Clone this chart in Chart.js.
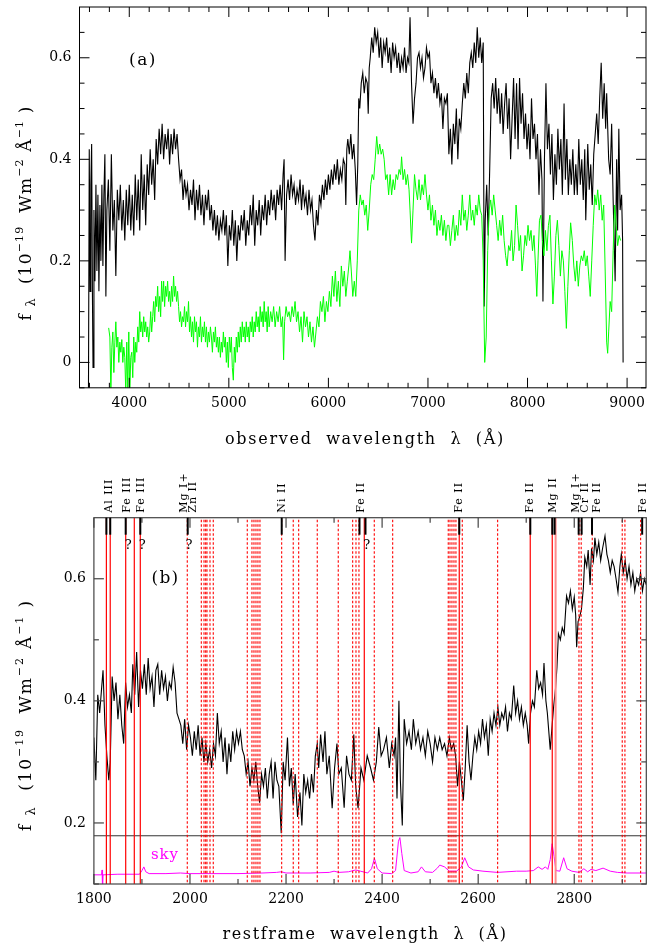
<!DOCTYPE html>
<html>
<head>
<meta charset="utf-8">
<script src="https://cdn.jsdelivr.net/npm/chart.js@4.4.1/dist/chart.umd.min.js"></script>
<style>
  html, body { margin: 0; padding: 0; background: #fff; }
  #wrap { position: relative; width: 648px; height: 943px; overflow: hidden; }
  canvas { position: absolute; left: 0; }
  #cA { top: 0; }
  #cB { top: 460px; }
</style>
</head>
<body>
<div id="wrap">
  <canvas id="cA" width="648" height="460"></canvas>
  <canvas id="cB" width="648" height="483"></canvas>
</div>
<script>
/* ── Panel (a): observed spectrum, [wavelength Å, flux] ── */
const blackA = [
  [3590,-0.06],[3598,0.42],[3606,0.14],[3614,0.35],[3622,0.43],[3630,0.13],[3636,-0.01],[3645,0.30],
  [3655,0.16],[3665,0.35],[3675,0.18],[3685,0.33],[3695,0.14],[3705,0.31],[3715,0.20],[3725,0.35],
  [3735,0.19],[3745,0.33],[3755,0.41],[3765,0.13],[3775,0.30],[3790,0.36],[3805,0.22],[3820,0.41],
  [3835,0.26],[3850,0.32],[3865,0.17],[3880,0.34],[3895,0.28],[3910,0.35],[3925,0.26],[3940,0.32],
  [3955,0.24],[3970,0.34],[3985,0.27],[4000,0.35],[4015,0.26],[4030,0.33],[4045,0.25],[4060,0.37],
  [4075,0.28],[4090,0.36],[4105,0.26],[4120,0.41],[4135,0.30],[4150,0.37],[4165,0.27],[4180,0.39],
  [4195,0.33],[4210,0.42],[4225,0.35],[4240,0.40],[4255,0.32],[4270,0.44],[4285,0.39],[4300,0.46],
  [4315,0.41],[4330,0.47],[4345,0.40],[4360,0.45],[4375,0.42],[4390,0.46],[4405,0.39],[4420,0.45],
  [4435,0.41],[4450,0.46],[4465,0.42],[4480,0.45],[4495,0.40],[4510,0.36],[4525,0.38],[4540,0.32],
  [4555,0.36],[4570,0.33],[4585,0.35],[4600,0.30],[4615,0.34],[4630,0.31],[4645,0.36],[4660,0.28],
  [4675,0.34],[4690,0.30],[4705,0.35],[4720,0.29],[4735,0.33],[4750,0.27],[4765,0.33],[4780,0.30],
  [4795,0.34],[4810,0.28],[4825,0.31],[4840,0.26],[4855,0.30],[4870,0.25],[4885,0.29],[4900,0.24],
  [4915,0.28],[4930,0.26],[4945,0.30],[4960,0.25],[4975,0.29],[4990,0.19],[5005,0.27],[5020,0.24],
  [5035,0.30],[5050,0.23],[5065,0.28],[5080,0.20],[5095,0.27],[5110,0.24],[5125,0.29],[5140,0.26],
  [5155,0.30],[5170,0.23],[5185,0.28],[5200,0.25],[5215,0.31],[5230,0.27],[5245,0.33],[5260,0.23],
  [5275,0.30],[5290,0.27],[5305,0.32],[5320,0.25],[5335,0.31],[5350,0.28],[5365,0.33],[5380,0.27],
  [5395,0.32],[5410,0.29],[5425,0.34],[5440,0.30],[5455,0.33],[5470,0.28],[5485,0.34],[5500,0.31],
  [5515,0.35],[5530,0.30],[5545,0.37],[5555,0.40],[5565,0.20],[5580,0.33],[5595,0.36],[5610,0.32],
  [5625,0.37],[5640,0.33],[5655,0.35],[5670,0.31],[5685,0.34],[5700,0.32],[5715,0.36],[5730,0.30],
  [5745,0.35],[5760,0.31],[5775,0.33],[5790,0.29],[5805,0.34],[5820,0.30],[5835,0.32],[5850,0.27],
  [5865,0.24],[5880,0.30],[5895,0.27],[5910,0.33],[5925,0.31],[5940,0.35],[5955,0.32],[5970,0.36],
  [5985,0.33],[6000,0.37],[6015,0.34],[6030,0.38],[6045,0.35],[6060,0.39],[6075,0.36],[6090,0.40],
  [6105,0.35],[6120,0.38],[6135,0.36],[6150,0.40],[6165,0.39],[6175,0.31],[6185,0.42],[6195,0.44],
  [6210,0.41],[6225,0.45],[6240,0.40],[6255,0.43],[6270,0.38],[6283,0.31],[6295,0.39],[6305,0.52],
  [6315,0.50],[6330,0.55],[6345,0.57],[6360,0.53],[6375,0.56],[6390,0.55],[6400,0.49],[6410,0.58],
  [6420,0.60],[6435,0.64],[6450,0.61],[6465,0.66],[6480,0.63],[6495,0.65],[6510,0.60],[6525,0.64],
  [6540,0.58],[6555,0.63],[6570,0.61],[6585,0.64],[6600,0.59],[6615,0.62],[6630,0.57],[6645,0.63],
  [6660,0.60],[6675,0.62],[6690,0.58],[6705,0.61],[6720,0.57],[6735,0.60],[6750,0.58],[6765,0.62],
  [6780,0.57],[6795,0.60],[6808,0.59],[6820,0.68],[6835,0.55],[6850,0.47],[6865,0.52],[6880,0.55],
  [6895,0.60],[6910,0.61],[6925,0.58],[6940,0.60],[6955,0.56],[6970,0.58],[6985,0.62],[7000,0.60],
  [7015,0.61],[7030,0.55],[7045,0.57],[7060,0.53],[7075,0.56],[7090,0.52],[7105,0.55],[7120,0.51],
  [7135,0.53],[7150,0.46],[7165,0.52],[7180,0.51],[7195,0.53],[7210,0.41],[7225,0.46],[7240,0.39],
  [7255,0.47],[7270,0.43],[7285,0.50],[7300,0.40],[7315,0.48],[7330,0.46],[7345,0.51],[7360,0.55],
  [7375,0.52],[7390,0.57],[7405,0.53],[7420,0.59],[7435,0.61],[7450,0.58],[7465,0.63],[7480,0.59],
  [7495,0.66],[7510,0.60],[7525,0.64],[7540,0.59],[7555,0.63],[7565,0.11],[7575,0.28],[7590,0.35],
  [7605,0.25],[7620,0.38],[7635,0.52],[7650,0.55],[7665,0.50],[7680,0.56],[7695,0.49],[7710,0.54],
  [7725,0.47],[7740,0.53],[7755,0.45],[7770,0.51],[7785,0.55],[7800,0.46],[7815,0.52],[7830,0.40],
  [7845,0.48],[7860,0.56],[7875,0.44],[7890,0.55],[7905,0.42],[7920,0.56],[7935,0.47],[7950,0.53],
  [7965,0.44],[7980,0.49],[7995,0.42],[8010,0.47],[8025,0.40],[8040,0.52],[8055,0.44],[8070,0.47],
  [8085,0.40],[8100,0.45],[8115,0.33],[8130,0.42],[8145,0.36],[8155,0.12],[8170,0.40],[8185,0.55],
  [8200,0.42],[8215,0.47],[8230,0.37],[8245,0.45],[8260,0.32],[8275,0.41],[8290,0.35],[8305,0.46],
  [8320,0.38],[8335,0.44],[8350,0.33],[8367,0.51],[8380,0.36],[8395,0.44],[8410,0.33],[8425,0.40],
  [8440,0.35],[8455,0.42],[8470,0.33],[8485,0.39],[8500,0.33],[8515,0.44],[8530,0.35],[8545,0.40],
  [8560,0.32],[8575,0.42],[8585,0.28],[8605,0.43],[8620,0.34],[8635,0.39],[8650,0.31],[8665,0.41],
  [8680,0.45],[8695,0.49],[8710,0.43],[8725,0.52],[8740,0.59],[8755,0.48],[8770,0.55],[8785,0.46],
  [8795,0.53],[8815,0.40],[8830,0.37],[8845,0.47],[8860,0.32],[8880,0.16],[8895,0.40],[8905,0.26],
  [8917,0.46],[8930,0.30],[8945,0.33],[8955,0.24],[8960,0.00]
];

const greenA = [
  [3793,0.068],[3805,0.05],[3815,-0.06],[3825,0.03],[3835,0.06],[3845,-0.02],[3855,0.04],[3865,0.08],
  [3875,0.03],[3885,0.05],[3895,0.00],[3905,0.04],[3915,0.02],[3925,0.045],[3935,0.00],[3945,0.03],
  [3955,0.01],[3965,-0.06],[3975,0.04],[3985,-0.06],[3995,0.06],[4005,-0.06],[4015,0.01],[4025,0.02],
  [4035,-0.03],[4045,0.05],[4055,0.00],[4065,0.04],[4075,0.02],[4085,0.07],[4095,0.04],[4105,0.10],
  [4115,0.06],[4125,0.08],[4135,0.05],[4145,0.09],[4155,0.06],[4165,0.08],[4175,0.05],[4185,0.07],
  [4195,0.04],[4205,0.06],[4215,0.10],[4225,0.06],[4235,0.09],[4245,0.12],[4255,0.08],[4265,0.13],
  [4275,0.11],[4285,0.15],[4295,0.10],[4305,0.13],[4315,0.09],[4325,0.16],[4335,0.12],[4345,0.16],
  [4355,0.11],[4365,0.15],[4375,0.13],[4385,0.16],[4395,0.12],[4405,0.14],[4415,0.11],[4425,0.15],
  [4435,0.12],[4445,0.17],[4455,0.13],[4465,0.15],[4475,0.12],[4485,0.14],[4495,0.11],[4505,0.08],
  [4515,0.10],[4525,0.07],[4535,0.09],[4545,0.08],[4555,0.11],[4565,0.07],[4575,0.10],[4585,0.08],
  [4595,0.12],[4605,0.06],[4615,0.09],[4625,0.05],[4635,0.08],[4645,0.04],[4655,0.09],[4665,0.06],
  [4675,0.08],[4685,0.03],[4695,0.07],[4705,0.05],[4715,0.09],[4725,0.04],[4735,0.07],[4745,0.05],
  [4755,0.08],[4765,0.04],[4775,0.07],[4785,0.03],[4795,0.06],[4805,0.04],[4815,0.07],[4825,0.05],
  [4835,0.02],[4845,0.06],[4855,0.04],[4865,0.07],[4875,0.03],[4885,0.05],[4895,0.02],[4905,0.05],
  [4915,0.01],[4925,0.04],[4935,0.02],[4945,0.06],[4955,0.03],[4965,0.05],[4975,0.00],[4985,0.04],
  [4995,-0.01],[5005,0.05],[5015,0.02],[5025,0.05],[5035,-0.01],[5045,-0.035],[5055,0.03],[5065,0.00],
  [5075,0.05],[5085,0.02],[5095,0.06],[5105,0.03],[5115,0.07],[5125,0.04],[5135,0.08],[5145,0.05],
  [5155,0.07],[5165,0.04],[5175,0.08],[5185,0.05],[5195,0.07],[5205,0.04],[5215,0.08],[5225,0.06],
  [5235,0.09],[5245,0.05],[5255,0.08],[5265,0.06],[5275,0.10],[5285,0.07],[5295,0.09],[5305,0.06],
  [5315,0.11],[5325,0.08],[5335,0.10],[5345,0.07],[5355,0.12],[5365,0.08],[5375,0.10],[5385,0.06],
  [5395,0.11],[5405,0.07],[5420,0.10],[5435,0.08],[5450,0.11],[5465,0.07],[5480,0.10],[5495,0.08],
  [5510,0.11],[5525,0.07],[5540,0.09],[5550,0.005],[5560,0.08],[5575,0.11],[5590,0.09],[5605,0.10],
  [5620,0.08],[5635,0.11],[5650,0.09],[5665,0.12],[5680,0.08],[5695,0.10],[5710,0.06],[5725,0.09],
  [5740,0.04],[5755,0.10],[5770,0.07],[5785,0.09],[5800,0.05],[5815,0.08],[5830,0.04],[5845,0.07],
  [5860,0.03],[5875,0.06],[5890,0.09],[5905,0.07],[5920,0.12],[5935,0.10],[5950,0.13],[5965,0.08],
  [5980,0.12],[5995,0.10],[6010,0.14],[6025,0.11],[6040,0.17],[6055,0.13],[6070,0.18],[6085,0.12],
  [6100,0.16],[6115,0.11],[6130,0.19],[6145,0.15],[6160,0.18],[6175,0.13],[6190,0.16],[6205,0.19],
  [6217,0.22],[6230,0.18],[6245,0.13],[6260,0.16],[6275,0.13],[6290,0.20],[6305,0.30],[6320,0.33],
  [6335,0.31],[6350,0.32],[6365,0.29],[6380,0.31],[6395,0.26],[6410,0.30],[6425,0.35],[6440,0.37],
  [6455,0.36],[6470,0.40],[6485,0.445],[6500,0.41],[6515,0.43],[6530,0.41],[6545,0.42],[6560,0.40],
  [6575,0.36],[6590,0.37],[6605,0.33],[6620,0.37],[6635,0.33],[6650,0.36],[6665,0.34],[6680,0.37],
  [6695,0.36],[6710,0.38],[6725,0.37],[6735,0.405],[6750,0.36],[6765,0.38],[6780,0.35],[6795,0.37],
  [6810,0.34],[6820,0.30],[6835,0.235],[6850,0.30],[6865,0.37],[6880,0.34],[6895,0.32],[6910,0.36],
  [6925,0.32],[6940,0.35],[6955,0.33],[6970,0.37],[6985,0.33],[7000,0.30],[7015,0.33],[7030,0.28],
  [7045,0.31],[7060,0.27],[7075,0.30],[7090,0.25],[7105,0.28],[7120,0.26],[7135,0.29],[7150,0.25],
  [7165,0.28],[7180,0.24],[7195,0.27],[7210,0.27],[7225,0.23],[7240,0.26],[7255,0.29],[7270,0.24],
  [7285,0.27],[7300,0.25],[7315,0.30],[7330,0.27],[7345,0.33],[7360,0.28],[7375,0.30],[7390,0.26],
  [7405,0.29],[7420,0.33],[7435,0.28],[7450,0.30],[7465,0.27],[7480,0.31],[7495,0.29],[7510,0.33],
  [7525,0.30],[7540,0.29],[7555,0.20],[7570,0.00],[7585,0.05],[7600,0.22],[7615,0.30],[7630,0.32],
  [7645,0.29],[7660,0.33],[7675,0.30],[7690,0.27],[7705,0.24],[7720,0.28],[7735,0.25],[7750,0.29],
  [7765,0.24],[7780,0.21],[7795,0.19],[7810,0.23],[7825,0.22],[7840,0.26],[7855,0.20],[7870,0.23],
  [7885,0.31],[7900,0.27],[7915,0.22],[7930,0.25],[7945,0.18],[7960,0.21],[7975,0.25],[7990,0.23],
  [8005,0.27],[8020,0.24],[8035,0.26],[8050,0.22],[8065,0.25],[8080,0.19],[8093,0.13],[8105,0.20],
  [8120,0.28],[8135,0.29],[8150,0.24],[8165,0.21],[8180,0.26],[8195,0.22],[8210,0.27],[8225,0.29],
  [8240,0.20],[8255,0.115],[8270,0.17],[8285,0.25],[8300,0.28],[8315,0.23],[8330,0.17],[8345,0.22],
  [8360,0.20],[8375,0.14],[8390,0.067],[8405,0.15],[8420,0.22],[8433,0.275],[8450,0.24],[8465,0.19],
  [8480,0.16],[8495,0.20],[8510,0.15],[8525,0.19],[8540,0.21],[8555,0.20],[8570,0.22],[8585,0.19],
  [8600,0.21],[8615,0.17],[8630,0.13],[8645,0.20],[8660,0.27],[8675,0.33],[8690,0.31],[8705,0.34],
  [8720,0.30],[8735,0.33],[8750,0.28],[8765,0.31],[8780,0.18],[8795,0.04],[8805,0.018],[8815,0.06],
  [8830,0.12],[8845,0.10],[8860,0.22],[8875,0.31],[8890,0.27],[8905,0.23],[8920,0.25],[8935,0.24]
];

/* ── Panel (b): restframe spectrum and sky, [wavelength Å, flux] ── */
const blackB = [
  [1800,0.34],[1804,0.27],[1808,0.41],[1812,0.38],[1816,0.42],[1819,0.45],[1823,0.36],[1827,0.31],
  [1831,0.27],[1834,0.30],[1838,0.44],[1842,0.40],[1846,0.43],[1850,0.37],[1854,0.41],[1858,0.36],
  [1862,0.33],[1866,0.43],[1870,0.39],[1874,0.41],[1878,0.38],[1881,0.46],[1885,0.41],[1889,0.48],
  [1893,0.39],[1897,0.45],[1901,0.42],[1905,0.46],[1909,0.41],[1913,0.47],[1917,0.42],[1921,0.44],
  [1925,0.39],[1929,0.45],[1933,0.46],[1937,0.41],[1941,0.45],[1945,0.42],[1949,0.44],[1953,0.40],
  [1957,0.43],[1961,0.42],[1965,0.455],[1969,0.43],[1973,0.38],[1977,0.37],[1981,0.36],[1985,0.33],
  [1989,0.37],[1993,0.32],[1997,0.36],[2001,0.34],[2005,0.31],[2009,0.35],[2013,0.32],[2017,0.36],
  [2021,0.31],[2025,0.34],[2029,0.30],[2033,0.33],[2037,0.30],[2041,0.32],[2045,0.29],[2049,0.33],
  [2053,0.31],[2057,0.38],[2061,0.33],[2065,0.35],[2069,0.30],[2073,0.34],[2077,0.28],[2081,0.33],
  [2085,0.30],[2089,0.35],[2093,0.32],[2097,0.35],[2101,0.33],[2105,0.35],[2109,0.32],[2113,0.31],
  [2117,0.28],[2121,0.30],[2125,0.26],[2129,0.29],[2133,0.27],[2137,0.30],[2141,0.26],[2145,0.233],
  [2149,0.28],[2153,0.26],[2157,0.29],[2161,0.24],[2165,0.28],[2169,0.30],[2173,0.24],[2177,0.30],
  [2181,0.27],[2185,0.26],[2190,0.183],[2194,0.30],[2198,0.27],[2203,0.34],[2207,0.26],[2211,0.29],
  [2215,0.23],[2219,0.28],[2224,0.21],[2229,0.25],[2233,0.196],[2237,0.28],[2241,0.25],[2245,0.27],
  [2249,0.24],[2253,0.28],[2257,0.25],[2261,0.31],[2265,0.33],[2268,0.29],[2272,0.345],[2277,0.30],
  [2281,0.35],[2285,0.28],[2290,0.31],[2296,0.224],[2301,0.29],[2306,0.33],[2310,0.28],[2315,0.29],
  [2321,0.225],[2326,0.31],[2331,0.28],[2336,0.27],[2341,0.345],[2345,0.26],[2350,0.224],[2356,0.29],
  [2362,0.27],[2369,0.31],[2376,0.29],[2382,0.27],[2388,0.30],[2393,0.357],[2398,0.31],[2403,0.32],
  [2409,0.34],[2415,0.29],[2420,0.33],[2425,0.31],[2428,0.34],[2431,0.24],[2435,0.40],[2438,0.27],
  [2442,0.196],[2446,0.37],[2451,0.33],[2456,0.35],[2461,0.32],[2465,0.37],[2470,0.33],[2475,0.35],
  [2480,0.32],[2485,0.34],[2490,0.31],[2495,0.35],[2500,0.33],[2505,0.30],[2510,0.34],[2515,0.32],
  [2520,0.34],[2525,0.32],[2530,0.33],[2535,0.31],[2540,0.34],[2544,0.32],[2549,0.33],[2553,0.31],
  [2557,0.26],[2561,0.30],[2565,0.27],[2569,0.237],[2573,0.29],[2577,0.36],[2581,0.30],[2585,0.27],
  [2589,0.31],[2593,0.34],[2597,0.32],[2601,0.35],[2605,0.33],[2609,0.37],[2613,0.34],[2617,0.36],
  [2621,0.31],[2625,0.37],[2629,0.35],[2633,0.38],[2637,0.36],[2641,0.39],[2645,0.36],[2649,0.38],
  [2653,0.37],[2657,0.39],[2661,0.35],[2665,0.38],[2669,0.37],[2674,0.425],[2678,0.38],[2682,0.40],
  [2686,0.37],[2690,0.39],[2694,0.36],[2698,0.38],[2702,0.36],[2705,0.33],[2709,0.38],[2713,0.40],
  [2717,0.39],[2722,0.45],[2726,0.42],[2730,0.43],[2734,0.41],[2737,0.462],[2741,0.40],[2744,0.38],
  [2747,0.35],[2750,0.32],[2754,0.36],[2757,0.39],[2761,0.42],[2764,0.455],[2767,0.51],[2771,0.50],
  [2775,0.52],[2779,0.51],[2784,0.572],[2788,0.56],[2792,0.58],[2796,0.55],[2800,0.57],[2803,0.54],
  [2805,0.488],[2808,0.53],[2812,0.54],[2815,0.55],[2819,0.585],[2822,0.635],[2826,0.62],[2829,0.647],
  [2833,0.59],[2836,0.65],[2840,0.63],[2843,0.667],[2847,0.64],[2851,0.66],[2855,0.63],[2859,0.65],
  [2864,0.67],[2868,0.64],[2871,0.63],[2875,0.61],[2879,0.63],[2883,0.62],[2887,0.60],[2891,0.578],
  [2895,0.62],[2898,0.64],[2902,0.61],[2906,0.63],[2910,0.60],[2914,0.62],[2918,0.59],[2922,0.61],
  [2926,0.58],[2930,0.60],[2934,0.59],[2938,0.61],[2942,0.58],[2946,0.60],[2950,0.59]
];

const skyB = [
  [1800,0.115],[1816,0.115],[1817,0.123],[1818,0.09],[1819,0.115],[1850,0.116],[1895,0.116],[1900,0.122],
  [1904,0.128],[1908,0.120],[1915,0.117],[1950,0.117],[1980,0.118],[2000,0.117],[2050,0.117],[2100,0.117],
  [2150,0.118],[2180,0.119],[2190,0.120],[2200,0.118],[2250,0.118],[2290,0.119],[2300,0.121],[2310,0.119],
  [2330,0.120],[2345,0.123],[2355,0.121],[2370,0.118],[2378,0.125],[2384,0.142],[2390,0.125],[2400,0.118],
  [2420,0.117],[2428,0.122],[2434,0.170],[2437,0.176],[2441,0.150],[2446,0.122],[2460,0.118],[2475,0.120],
  [2482,0.128],[2490,0.120],[2505,0.119],[2515,0.126],[2520,0.131],[2530,0.128],[2540,0.121],[2555,0.121],
  [2565,0.128],[2572,0.143],[2580,0.128],[2590,0.123],[2610,0.121],[2640,0.119],[2680,0.121],[2700,0.121],
  [2715,0.122],[2725,0.128],[2733,0.124],[2740,0.128],[2745,0.124],[2750,0.140],[2754,0.166],[2758,0.145],
  [2762,0.122],[2770,0.121],[2778,0.143],[2785,0.125],[2795,0.121],[2810,0.119],[2820,0.125],[2828,0.120],
  [2835,0.124],[2845,0.122],[2860,0.126],[2875,0.121],[2890,0.119],[2910,0.118],[2950,0.118]
];

/* ── Line identifications in panel (b) ── */
const solidLinesB = [1826, 1834, 1866.2, 1884.1, 1896.6, 2362.9, 2560.6, 2708.4, 2754.2];
const paleLinesB = [2761.2];
const dottedLinesB = [1994.4, 2023.6, 2029.2, 2032.7, 2035.4, 2041.7, 2048.5, 2119.3, 2129, 2133.2,
  2137.4, 2141.5, 2145.7, 2190.9, 2215, 2226.3, 2265, 2308.7, 2338.7, 2345.6, 2351.8, 2383.7, 2422,
  2537.7, 2541.3, 2545.4, 2549.6, 2553.7, 2566.9, 2640.5, 2809.8, 2814.5, 2837.5, 2899.9, 2905.5, 2938.2];
const markTicksB = [1826, 1834, 1866.2, 1896.6, 1995.3, 2191, 2352.9, 2365.4, 2560.6, 2708.5,
  2754.3, 2759.1, 2809.2, 2815.4, 2836.9, 2941.4];
const lineLabelsB = [
  [1832, 'Al III'], [1868.3, 'Fe III'], [1898, 'Fe III'], [1987.6, 'Mg I+'], [2006.4, 'Zn II'],
  [2191, 'Ni II'], [2356, 'Fe II'], [2560.6, 'Fe II'], [2707.8, 'Fe II'], [2756.3, 'Mg II'],
  [2803.6, 'Mg I+'], [2823.5, 'Cr II'], [2848, 'Fe II'], [2942.4, 'Fe II']
];
const queryMarksB = [1871.6, 1900.7, 1998, 2367.9];
const skyCutB = 0.179;

/* ── Axis ticks ── */
const xMajorA = [4000, 5000, 6000, 7000, 8000, 9000];
const xMinorA = [3600, 3800, 4000, 4200, 4400, 4600, 4800, 5000, 5200, 5400, 5600, 5800, 6000, 6200,
  6400, 6600, 6800, 7000, 7200, 7400, 7600, 7800, 8000, 8200, 8400, 8600, 8800, 9000];
const yMajorA = [0, 0.2, 0.4, 0.6];
const yMinorA = [-0.05, 0, 0.05, 0.1, 0.15, 0.2, 0.25, 0.3, 0.35, 0.4, 0.45, 0.5, 0.55, 0.6, 0.65];
const xMajorB = [1800, 2000, 2200, 2400, 2600, 2800];
const xMinorB = [1800, 1900, 2000, 2100, 2200, 2300, 2400, 2500, 2600, 2700, 2800, 2900];
const yMajorB = [0.2, 0.4, 0.6];
const yMinorB = [0.1, 0.2, 0.3, 0.4, 0.5, 0.6];

const serif = '"DejaVu Serif", "Liberation Serif", serif';
const toXY = arr => arr.map(([x, y]) => ({ x, y }));

const seg = (ctx, x1, y1, x2, y2) => {
    ctx.beginPath(); ctx.moveTo(x1, y1); ctx.lineTo(x2, y2); ctx.stroke();
};

// Draw text stretched to a given width with letter spacing
const spacedText = (ctx, text, cx, y, width) => {
    ctx.letterSpacing = '0px';
    const w = ctx.measureText(text).width;
    const sp = (width - w) / [...text].length;
    ctx.letterSpacing = sp + 'px';
    ctx.textAlign = 'left';
    ctx.fillText(text, cx - width / 2, y);
    ctx.letterSpacing = '0px';
};

// Rotated y title "f λ (10^-19 Wm^-2 Å^-1)"
const yTitleParts = [
    ['f', 17, 0], [' ', 17, 0], ['λ', 13, 4], ['  (10', 17, 0], ['−19', 11, -8], ['  Wm', 17, 0],
    ['−2', 11, -8], [' Å', 17, 0], ['−1', 11, -8], [' )', 17, 0]
];
const drawYTitle = (ctx, x, cy, width) => {
    ctx.save();
    ctx.translate(x, cy);
    ctx.rotate(-Math.PI / 2);
    ctx.textAlign = 'left';
    ctx.textBaseline = 'alphabetic';
    let natural = 0, chars = 0;
    yTitleParts.forEach(([t, s]) => {
        ctx.font = `${s}px ${serif}`;
        natural += ctx.measureText(t).width;
        chars += [...t].length;
    });
    const sp = (width - natural) / chars;
    let pos = -width / 2;
    yTitleParts.forEach(([t, s, dy]) => {
        ctx.font = `${s}px ${serif}`;
        ctx.letterSpacing = '0px';
        const w = ctx.measureText(t).width;
        ctx.letterSpacing = sp + 'px';
        ctx.fillText(t, pos, dy);
        pos += w + sp * [...t].length;
    });
    ctx.restore();
};

// Inward PGPLOT-style frame and ticks
const drawFrame = (chart, o) => {
    const { ctx, chartArea: a, scales: { x, y } } = chart;
    ctx.save();
    ctx.strokeStyle = o.color;
    ctx.lineWidth = o.lw;
    ctx.strokeRect(a.left, a.top, a.right - a.left, a.bottom - a.top);
    o.xMinor.forEach(v => {
        const px = x.getPixelForValue(v);
        const L = o.xMajor.includes(v) ? 10 : 5;
        seg(ctx, px, a.bottom, px, a.bottom - L);
        seg(ctx, px, a.top, px, a.top + L);
    });
    o.yMinor.forEach(v => {
        const py = y.getPixelForValue(v);
        const L = o.yMajor.some(m => Math.abs(m - v) < 1e-9) ? 10 : 5;
        seg(ctx, a.left, py, a.left + L, py);
        seg(ctx, a.right, py, a.right - L, py);
    });
    ctx.restore();
};

const axisOpts = (min, max, majors, fitSize, isX) => ({
    type: 'linear', min, max,
    grid: { display: false, drawTicks: false },
    border: { display: false },
    ticks: {
        font: { family: serif, size: 14 }, color: '#000', padding: isX ? 7 : 8,
        maxRotation: 0, autoSkip: false, callback: v => String(v)
    },
    afterBuildTicks: s => { s.ticks = majors.map(v => ({ value: v })); },
    afterFit: s => {
        if (isX) { s.height = fitSize; s.paddingLeft = 0; s.paddingRight = 0; }
        else { s.width = fitSize; s.paddingTop = 0; s.paddingBottom = 0; }
    }
});

/* ── Panel (a) ── */
const decoA = {
    id: 'decoA',
    afterDraw(chart) {
        const { ctx } = chart;
        drawFrame(chart, { color: '#000', lw: 1, xMajor: xMajorA, xMinor: xMinorA, yMajor: yMajorA, yMinor: yMinorA });
        ctx.save();
        ctx.fillStyle = '#000';
        ctx.font = `17px ${serif}`;
        ctx.textBaseline = 'middle';
        spacedText(ctx, '(a)', 143, 61, 28);
        ctx.font = `16px ${serif}`;
        ctx.textBaseline = 'alphabetic';
        spacedText(ctx, 'observed  wavelength  λ  (Å)', 365, 444, 280);
        drawYTitle(ctx, 31, 213, 215);
        ctx.restore();
    }
};

new Chart(document.getElementById('cA'), {
    type: 'line',
    data: {
        datasets: [
            { data: toXY(greenA), borderColor: '#00ff00', borderWidth: 1, pointRadius: 0, tension: 0 },
            { data: toXY(blackA), borderColor: '#000000', borderWidth: 1.1, pointRadius: 0, tension: 0 }
        ]
    },
    options: {
        responsive: false, animation: false, events: [],
        layout: { padding: { left: 0, right: 2, top: 7, bottom: 0 } },
        plugins: { legend: { display: false }, tooltip: { enabled: false } },
        scales: {
            x: axisOpts(3500, 9190, xMajorA, 460 - 387.8, true),
            y: axisOpts(-0.05, 0.7, yMajorA, 79.5, false)
        }
    },
    plugins: [decoA]
});

/* ── Panel (b) ── */
const decoB = {
    id: 'decoB',
    afterDraw(chart) {
        const { ctx, chartArea: a, scales: { x, y } } = chart;
        ctx.save();
        // Sky separator
        ctx.strokeStyle = '#333';
        ctx.lineWidth = 1;
        const ys = y.getPixelForValue(skyCutB);
        seg(ctx, a.left, ys, a.right, ys);
        // Red identification lines
        ctx.strokeStyle = '#ff0000';
        ctx.lineWidth = 1.1;
        ctx.setLineDash([2.5, 2]);
        dottedLinesB.forEach(v => {
            const px = x.getPixelForValue(v);
            seg(ctx, px, a.top + 2, px, a.bottom);
        });
        ctx.setLineDash([]);
        ctx.lineWidth = 1.2;
        solidLinesB.forEach(v => {
            const px = x.getPixelForValue(v);
            seg(ctx, px, a.top, px, a.bottom);
        });
        ctx.strokeStyle = '#ff8c8c';
        ctx.lineWidth = 2;
        paleLinesB.forEach(v => {
            const px = x.getPixelForValue(v);
            seg(ctx, px, a.top, px, a.bottom);
        });
        ctx.restore();

        drawFrame(chart, { color: '#444', lw: 1.2, xMajor: xMajorB, xMinor: xMinorB, yMajor: yMajorB, yMinor: yMinorB });

        ctx.save();
        // Black identification marks at the top
        ctx.strokeStyle = '#000';
        ctx.lineWidth = 2;
        markTicksB.forEach(v => {
            const px = x.getPixelForValue(v);
            seg(ctx, px, a.top, px, a.top + 17);
        });
        ctx.fillStyle = '#000';
        ctx.font = `11px ${serif}`;
        ctx.textBaseline = 'middle';
        lineLabelsB.forEach(([v, t]) => {
            const px = x.getPixelForValue(v);
            ctx.save();
            ctx.translate(px, a.top - 5);
            ctx.rotate(-Math.PI / 2);
            ctx.letterSpacing = '1px';
            ctx.textAlign = 'left';
            ctx.fillText(t, 0, 0);
            ctx.restore();
        });
        ctx.font = `13px ${serif}`;
        ctx.textAlign = 'center';
        queryMarksB.forEach(v => ctx.fillText('?', x.getPixelForValue(v), a.top + 28));

        ctx.font = `17px ${serif}`;
        spacedText(ctx, '(b)', 165.5, 579 - 460, 28);
        ctx.fillStyle = '#ff00ff';
        ctx.font = `15px ${serif}`;
        spacedText(ctx, 'sky', 165, 855 - 460, 28);
        ctx.fillStyle = '#000';
        ctx.font = `16px ${serif}`;
        ctx.textBaseline = 'alphabetic';
        spacedText(ctx, 'restframe  wavelength  λ  (Å)', 365, 939 - 460, 285);
        drawYTitle(ctx, 31, 715 - 460, 232);
        ctx.restore();
    }
};

new Chart(document.getElementById('cB'), {
    type: 'line',
    data: {
        datasets: [
            { data: toXY(skyB), borderColor: '#ff00ff', borderWidth: 1, pointRadius: 0, tension: 0 },
            { data: toXY(blackB), borderColor: '#000000', borderWidth: 1.1, pointRadius: 0, tension: 0 }
        ]
    },
    options: {
        responsive: false, animation: false, events: [],
        layout: { padding: { left: 0, right: 1.7, top: 57.7, bottom: 0 } },
        plugins: { legend: { display: false }, tooltip: { enabled: false } },
        scales: {
            x: axisOpts(1800, 2950, xMajorB, 483 - 424, true),
            y: axisOpts(0.1, 0.7, yMajorB, 93.9, false)
        }
    },
    plugins: [decoB]
});
</script>
</body>
</html>
